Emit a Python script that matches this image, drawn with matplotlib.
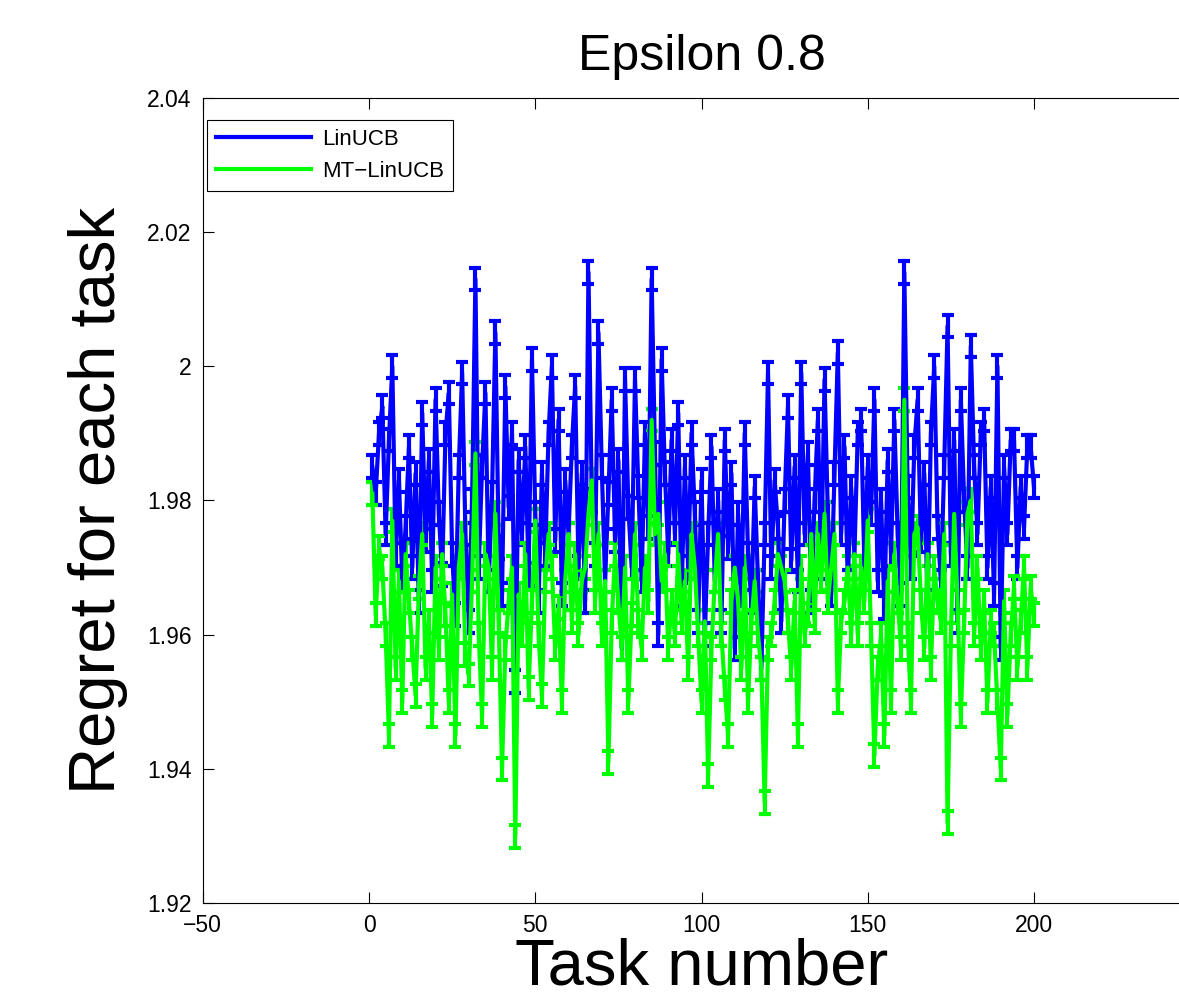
import matplotlib
matplotlib.use("Agg")
import matplotlib.pyplot as plt
from matplotlib.lines import Line2D

plt.rcParams['font.family'] = ['Liberation Sans', 'DejaVu Sans']

tasks = list(range(1, 201))

linucb = [
    1.985, 1.981, 1.990, 1.994, 1.975, 1.989, 2.000, 1.972, 1.983, 1.968,
    1.976, 1.988, 1.970, 1.984, 1.965, 1.993, 1.974, 1.986, 1.968, 1.995,
    1.978, 1.969, 1.990, 1.996, 1.972, 1.963, 1.985, 1.999, 1.975, 1.962,
    1.980, 2.013, 1.970, 1.985, 1.996, 1.968, 1.981, 2.005, 1.973, 1.966,
    1.997, 1.979, 1.990, 1.953, 1.986, 1.975, 1.988, 1.969, 2.001, 1.978,
    1.965, 1.984, 1.972, 1.990, 2.000, 1.974, 1.992, 1.966, 1.983, 1.975,
    1.988, 1.997, 1.970, 1.984, 1.965, 2.014, 1.980, 1.972, 2.005, 1.985,
    1.968, 1.981, 1.995, 1.974, 1.986, 1.958, 1.998, 1.979, 1.970, 1.998,
    1.982, 1.968, 1.990, 1.976, 2.013, 1.987, 1.960, 2.001, 1.984, 1.972,
    1.989, 1.975, 1.993, 1.966, 1.985, 1.970, 1.990, 1.978, 1.962, 1.983,
    1.960, 1.975, 1.988, 1.968, 1.980, 1.962, 1.989, 1.973, 1.984, 1.958,
    1.978, 1.966, 1.990, 1.972, 1.965, 1.982, 1.968, 1.955, 1.975, 1.999,
    1.970, 1.983, 1.976, 1.962, 1.980, 1.994, 1.971, 1.985, 1.968, 1.999,
    1.975, 1.987, 1.965, 1.980, 1.992, 1.970, 1.998, 1.978, 1.966, 1.984,
    2.002, 1.975, 1.988, 1.968, 1.982, 1.972, 1.990, 1.992, 1.970, 1.985,
    1.978, 1.995, 1.968, 1.980, 1.964, 1.986, 1.972, 1.992, 1.975, 1.966,
    2.014, 1.982, 1.970, 1.988, 1.995, 1.974, 1.984, 1.965, 1.990, 2.000,
    1.976, 1.968, 1.985, 2.006, 1.972, 1.989, 1.962, 1.995, 1.980, 1.970,
    2.003, 1.985, 1.975, 1.990, 1.992, 1.970, 1.982, 1.966, 2.000, 1.958,
    1.985, 1.975, 1.989, 1.989, 1.970, 1.982, 1.976, 1.988, 1.988, 1.982,
]

mt_linucb = [
    1.981, 1.963, 1.973, 1.970, 1.960, 1.945, 1.977, 1.955, 1.968, 1.950,
    1.972, 1.965, 1.958, 1.951, 1.967, 1.975, 1.955, 1.962, 1.948, 1.970,
    1.958, 1.972, 1.963, 1.950, 1.966, 1.945, 1.970, 1.975, 1.957, 1.954,
    1.968, 1.987, 1.960, 1.948, 1.972, 1.970, 1.955, 1.978, 1.962, 1.940,
    1.958, 1.965, 1.970, 1.930, 1.966, 1.960, 1.972, 1.952, 1.965, 1.977,
    1.960, 1.951, 1.968, 1.975, 1.970, 1.958, 1.964, 1.950, 1.968, 1.975,
    1.962, 1.972, 1.960, 1.968, 1.970, 1.978, 1.983, 1.965, 1.975, 1.960,
    1.968, 1.941, 1.962, 1.972, 1.965, 1.958, 1.970, 1.950, 1.963, 1.975,
    1.962, 1.958, 1.970, 1.965, 1.992, 1.975, 1.978, 1.968, 1.972, 1.958,
    1.965, 1.960, 1.972, 1.962, 1.968, 1.955, 1.975, 1.970, 1.960, 1.950,
    1.962, 1.939, 1.958, 1.968, 1.975, 1.960, 1.952, 1.945, 1.965, 1.970,
    1.965, 1.955, 1.970, 1.950, 1.962, 1.968, 1.960, 1.955, 1.935, 1.958,
    1.960, 1.965, 1.972, 1.970, 1.968, 1.962, 1.955, 1.965, 1.945, 1.970,
    1.960, 1.963, 1.975, 1.962, 1.975, 1.968, 1.978, 1.965, 1.970, 1.975,
    1.950, 1.962, 1.965, 1.970, 1.960, 1.972, 1.960, 1.970, 1.965, 1.977,
    1.960, 1.942, 1.955, 1.960, 1.945, 1.968, 1.950, 1.972, 1.965, 1.958,
    1.995, 1.960, 1.950, 1.975, 1.976, 1.965, 1.958, 1.972, 1.955, 1.970,
    1.965, 1.962, 1.975, 1.932, 1.960, 1.978, 1.965, 1.948, 1.962, 1.978,
    1.980, 1.960, 1.970, 1.958, 1.965, 1.950, 1.962, 1.960, 1.950, 1.940,
    1.965, 1.948, 1.960, 1.967, 1.955, 1.962, 1.970, 1.955, 1.967, 1.963,
]

err = 0.0017

fig = plt.figure(figsize=(11.79, 10.07), dpi=100)
ax = fig.add_axes([0.172, 0.103, 0.846, 0.800])

ax.errorbar(tasks, linucb, yerr=err, color="#0000ff", lw=3, elinewidth=3,
            capsize=4.5, capthick=3)
ax.errorbar(tasks, mt_linucb, yerr=err, color="#00ff00", lw=3, elinewidth=3,
            capsize=4.5, capthick=3)

ax.set_xlim(-50, 250)
ax.set_ylim(1.92, 2.04)
ax.set_xticks([-50, 0, 50, 100, 150, 200, 250])
ax.set_xticklabels(["\u221250", "0", "50", "100", "150", "200", "250"])
ax.set_yticks([1.92, 1.94, 1.96, 1.98, 2.00, 2.02, 2.04])
ax.set_yticklabels(["1.92", "1.94", "1.96", "1.98", "2", "2.02", "2.04"])
ax.tick_params(direction="in", top=True, right=True, labelsize=16.5,
               length=8, pad=8)

ax.set_title("Epsilon 0.8", fontsize=36, pad=20)
ax.set_xlabel("Task number", fontsize=47, labelpad=0)
ax.set_ylabel("Regret for each task", fontsize=47, labelpad=14)

handles = [Line2D([], [], color="#0000ff", lw=3),
           Line2D([], [], color="#00ff00", lw=3)]
leg = ax.legend(handles, ["LinUCB", "MT\u2212LinUCB"], loc="upper left",
                bbox_to_anchor=(0.004, 0.972), fontsize=16, fancybox=False,
                framealpha=1, edgecolor="black", borderaxespad=0,
                handlelength=4.3, handletextpad=0.5, borderpad=0.4,
                labelspacing=0.5)
leg.get_frame().set_linewidth(0.8)

fig.savefig("out.png", dpi=100)
